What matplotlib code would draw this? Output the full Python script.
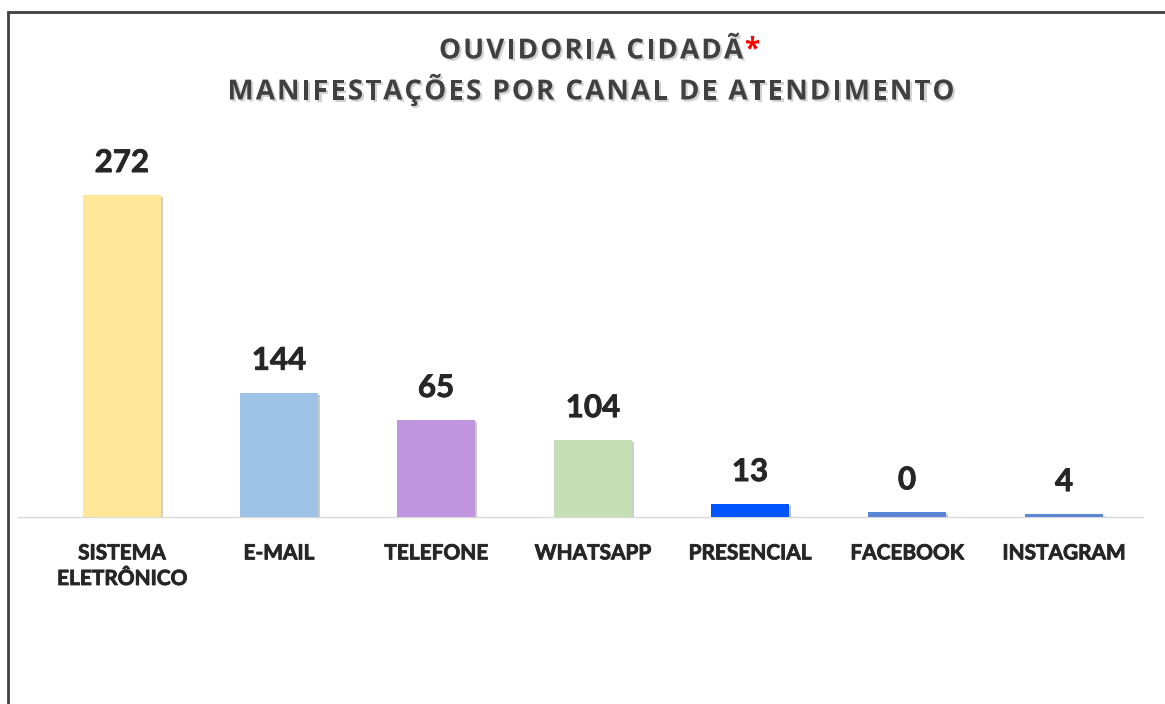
import matplotlib
matplotlib.use("Agg")
import matplotlib.pyplot as plt
import matplotlib.patheffects as pe
from matplotlib.patches import Rectangle

# data
categories = ["SISTEMA\nELETRÔNICO", "E-MAIL", "TELEFONE", "WHATSAPP",
              "PRESENCIAL", "FACEBOOK", "INSTAGRAM"]
value_labels = [272, 144, 65, 104, 13, 0, 4]
# heights as drawn in the source chart (they do not follow the labels)
bar_heights = [272, 105, 82, 65, 11, 4, 2.5]
bar_colors = ["#FFE699", "#9DC3E6", "#C095DF", "#C5E0B4",
              "#0055FF", "#5B86D6", "#5B86D6"]
title_line1 = "OUVIDORIA CIDADÃ"
title_line2 = "MANIFESTAÇÕES POR CANAL DE ATENDIMENTO"

W, H = 1165, 704
fig = plt.figure(figsize=(W / 100, H / 100), dpi=100)
fig.patch.set_facecolor("white")

# outer frame (only left and top edges visible)
fig.patches.append(Rectangle((8 / W, -0.1), 1.2, 1.1 - 12 / H,
                             transform=fig.transFigure, fill=False,
                             edgecolor="#404040", linewidth=2))

ax = fig.add_axes([18 / W, 1 - 517 / H, 1125 / W, (517 - 150) / H])
x = list(range(len(categories)))
ax.bar(x, bar_heights, width=0.5, color=bar_colors, zorder=3,
       path_effects=[pe.SimplePatchShadow(offset=(1.5, -1.5), alpha=0.25),
                     pe.Normal()])
ax.set_xlim(-0.662, 6.503)
ax.set_ylim(0, 310)

bold = [pe.withStroke(linewidth=0.6, foreground="#262626")]
for xi, h, lab in zip(x, bar_heights, value_labels):
    ax.annotate(str(lab), (xi, h), xytext=(0, 23), textcoords="offset points",
                ha="center", va="center", fontsize=22.5, fontweight="bold",
                family="Lato", color="#262626", path_effects=bold)

for s in ["top", "right", "left"]:
    ax.spines[s].set_visible(False)
ax.spines["bottom"].set_color("#D9D9D9")
ax.spines["bottom"].set_linewidth(1)
ax.set_yticks([])
ax.set_xticks(x)
ax.set_xticklabels(categories, fontsize=15, fontweight="bold", family="Lato",
                   color="#262626", linespacing=1.35)
for t in ax.get_xticklabels():
    t.set_path_effects(bold)
ax.tick_params(axis="x", length=0, pad=19)

# title: letter-spaced, with a soft shadow and a red asterisk
fig.canvas.draw()
r = fig.canvas.get_renderer()
title_kw = dict(fontsize=20, fontweight="bold", family="Open Sans",
                color="#404040", va="center", ha="left")
shadow = [pe.withSimplePatchShadow(offset=(1.5, -1.5), shadow_rgbFace="#808080",
                                   alpha=0.35)]


def char_widths(s):
    ws = []
    for ch in s:
        t = fig.text(0, 0, ch, **title_kw)
        ws.append(t.get_window_extent(r).width if ch != " " else 0)
        t.remove()
    return ws


def spaced_text(s, cx, y, extra, space_w):
    ws = char_widths(s)
    ws = [w if ch != " " else space_w for ch, w in zip(s, ws)]
    total = sum(ws) + extra * (len(s) - 1)
    xpos = cx - total / 2
    for ch, w in zip(s, ws):
        if ch != " ":
            fig.text(xpos / W, y, ch, path_effects=shadow, **title_kw)
        xpos += w + extra
    return xpos - extra


space_w = 7
ws2 = [w if ch != " " else space_w for ch, w in zip(title_line2, char_widths(title_line2))]
extra = (727 - sum(ws2)) / (len(title_line2) - 1)
end1 = spaced_text(title_line1, 591, 1 - 51 / H, extra, space_w)
spaced_text(title_line2, 591, 1 - 92 / H, extra, space_w)
fig.text((end1 + extra * 0.6) / W, 1 - 50 / H, "*", fontsize=20, fontweight="bold",
         family="Open Sans", color="#FF0000", ha="left", va="center")

fig.savefig("out.png", dpi=100, facecolor="white")
